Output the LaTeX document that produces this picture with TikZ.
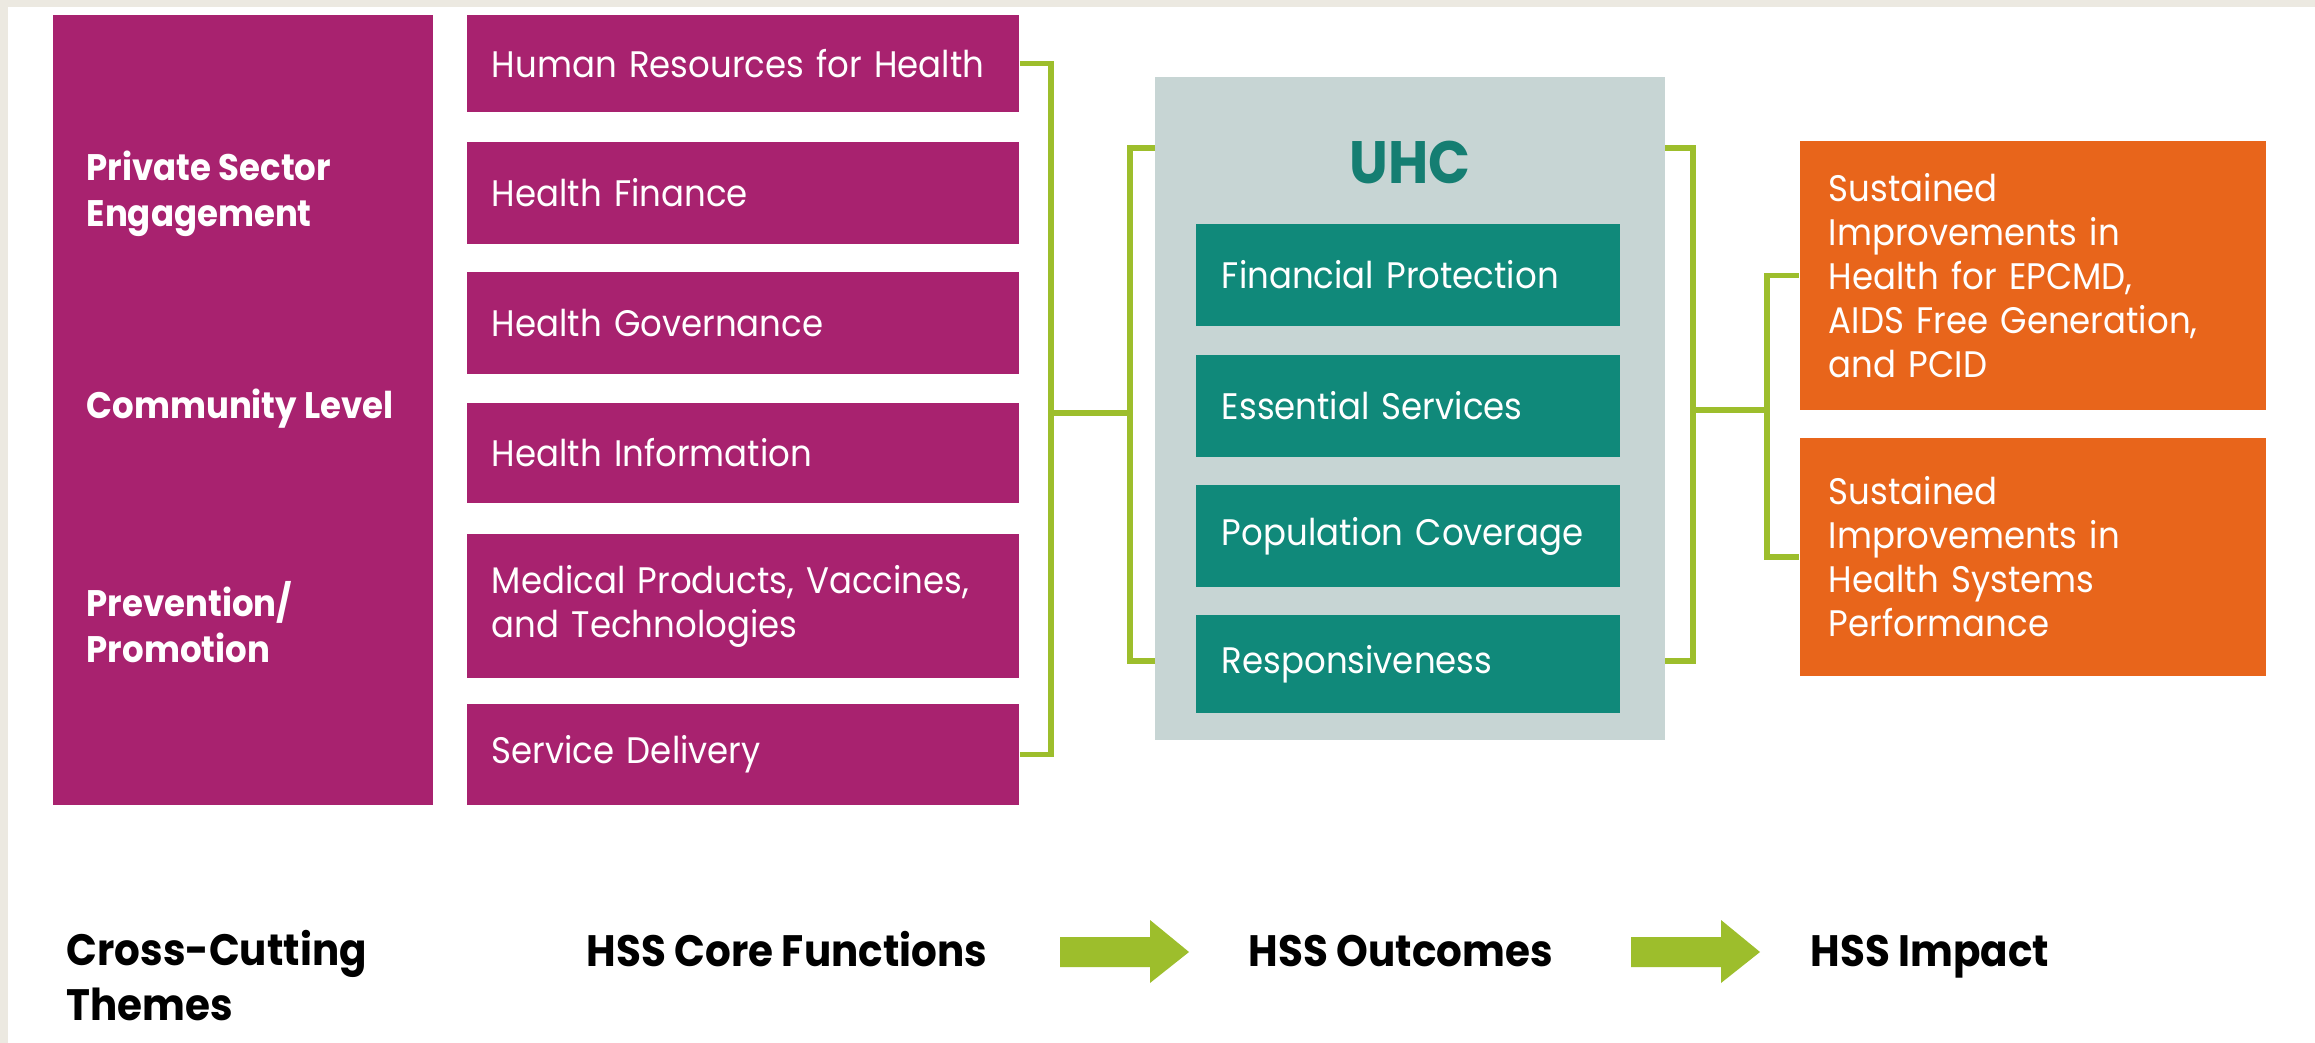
\documentclass[tikz,border=0pt]{standalone}
\usepackage{fontspec}
\setmainfont{Poppins}[FakeStretch=0.92]
\hyphenpenalty=10000
\exhyphenpenalty=10000
\definecolor{magentabox}{HTML}{A8226F}
\definecolor{tealbox}{HTML}{10897A}
\definecolor{uhcteal}{HTML}{157E72}
\definecolor{greybox}{HTML}{C7D5D4}
\definecolor{orangebox}{HTML}{E8651B}
\definecolor{linkgreen}{HTML}{9DBE2C}
\definecolor{beige}{HTML}{ECE9E1}
\tikzset{
  box/.style={draw=none, inner ysep=0pt, align=left, text=white, font=\fontsize{10.5}{12.5}\selectfont},
  pbox/.style={box, fill=magentabox, inner xsep=0.25cm, text width=5.02cm, minimum width=5.52cm},
  tbox/.style={box, fill=tealbox, inner xsep=0.26cm, text width=3.72cm, minimum width=4.24cm},
  obox/.style={box, fill=orangebox, inner xsep=0.29cm, text width=4.08cm, minimum width=4.66cm},
  conn/.style={draw=linkgreen, line width=1.5pt},
  themelabel/.style={anchor=west, inner sep=0pt, text=white, align=left, font=\bfseries\fontsize{10.5}{13}\selectfont},
  footlabel/.style={anchor=base west, inner sep=0pt, text=black, align=left, font=\bfseries\fontsize{12.5}{15.5}\selectfont},
  fatarrow/.style={fill=linkgreen, draw=none}
}
\begin{document}
\begin{tikzpicture}[x=0.01cm, y=-0.01cm]
\useasboundingbox (0,0) rectangle (2315,1043);
\fill[white] (0,0) rectangle (2315,1043);
\fill[beige] (0,0) rectangle (2315,7);
\fill[beige] (0,0) rectangle (8,1043);

% cross-cutting themes column
\node[fill=magentabox, minimum width=3.8cm, minimum height=7.9cm, inner sep=0pt] (L) at (243,410) {};
\node[themelabel] (t1) at (86,194) {Private Sector\\Engagement};
\node[themelabel] (t2) at (86,409) {Community Level};
\node[themelabel] (t3) at (86,622) {Prevention/\\Promotion};

% core functions
\node[pbox, minimum height=0.97cm] (P1) at (743,63.5) {Human Resources for Health};
\node[pbox, minimum height=1.02cm] (P2) at (743,193) {Health Finance};
\node[pbox, minimum height=1.02cm] (P3) at (743,323) {Health Governance};
\node[pbox, minimum height=1.00cm] (P4) at (743,453) {Health Information};
\node[pbox, minimum height=1.44cm] (P5) at (743,606) {Medical Products, Vaccines,\\and Technologies};
\node[pbox, minimum height=1.01cm] (P6) at (743,754.5) {Service Delivery};

% UHC
\node[fill=greybox, minimum width=5.1cm, minimum height=6.63cm, inner sep=0pt] (G) at (1410,408.5) {};
\node[text=uhcteal, font=\bfseries\fontsize{17}{20}\selectfont, inner sep=0pt] (uhc) at (1410,162) {UHC};
\node[tbox, minimum height=1.02cm] (T1) at (1408,275) {Financial Protection};
\node[tbox, minimum height=1.02cm] (T2) at (1408,406) {Essential Services};
\node[tbox, minimum height=1.02cm] (T3) at (1408,536) {Population Coverage};
\node[tbox, minimum height=0.98cm] (T4) at (1408,664) {Responsiveness};

% impact
\node[obox, minimum height=2.69cm] (O1) at (2033,275.5) {Sustained\\Improvements in\\Health for EPCMD,\\AIDS Free Generation,\\and PCID};
\node[obox, minimum height=2.38cm] (O2) at (2033,557) {Sustained\\Improvements in\\Health Systems\\Performance};

% left connectors
\coordinate (ja) at (1051,413);
\coordinate (jb) at (1130,413);
\coordinate (g1) at (1155,148);
\coordinate (g2) at (1155,661);
\draw[conn] (P1.east) -| (ja);
\draw[conn] (P6.east) -| (ja);
\draw[conn] (ja) -- (jb);
\draw[conn] (g1) -| (jb);
\draw[conn] (g2) -| (jb);

% right connectors
\coordinate (g3) at (1665,148);
\coordinate (g4) at (1665,661);
\coordinate (jc) at (1693,410);
\coordinate (jd) at (1767,410);
\draw[conn] (g3) -| (jc);
\draw[conn] (g4) -| (jc);
\draw[conn] (jc) -- (jd);
\draw[conn] (jd) |- (O1.west);
\draw[conn] (jd) |- (O2.west);

% footer
\node[footlabel] (f1) at (66,1020) {Cross-Cutting\\Themes};
\node[footlabel] (f2) at (586,966) {HSS Core Functions};
\node[footlabel] (f3) at (1248,966) {HSS Outcomes};
\node[footlabel] (f4) at (1810,966) {HSS Impact};

\coordinate (a1) at (1060,952);
\coordinate (a2) at (1631,952);
\fill[fatarrow] (a1) ++(0,-15) -- ++(90,0) -- ++(0,-17) -- ++(39,32) -- ++(-39,31) -- ++(0,-16) -- ++(-90,0) -- cycle;
\fill[fatarrow] (a2) ++(0,-15) -- ++(90,0) -- ++(0,-17) -- ++(39,32) -- ++(-39,31) -- ++(0,-16) -- ++(-90,0) -- cycle;
\end{tikzpicture}
\end{document}
